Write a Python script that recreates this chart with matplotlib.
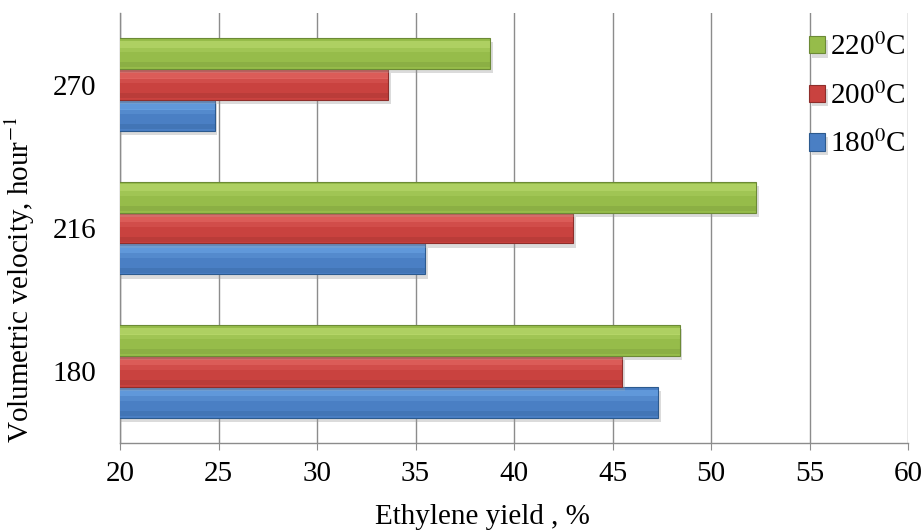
import matplotlib
matplotlib.use("Agg")
import matplotlib.pyplot as plt
import matplotlib.patheffects as pe
import numpy as np

plt.rcParams['font.family'] = ['Liberation Serif', 'DejaVu Serif']
plt.rcParams['mathtext.fontset'] = 'stix'

categories = ['180', '216', '270']
series_labels = ['180$^0$C', '200$^0$C', '220$^0$C']
vals_180C = [47.3, 35.5, 24.8]
vals_200C = [45.5, 43.0, 33.6]
vals_220C = [48.4, 52.3, 38.8]
x_ticks = [20, 25, 30, 35, 40, 45, 50, 55, 60]

series = [vals_180C, vals_200C, vals_220C]
colors = ['#4A7FC4', '#C9423F', '#96BC4A']
light = ['#7DB8F5', '#F27D78', '#CDEA80']
dark = ['#2C5A8E', '#8E2E2B', '#6C8A36']

fig = plt.figure(figsize=(9.24, 5.31), dpi=100)
ax = fig.add_axes([0.13, 0.1657, 0.8527, 0.8098])

y = np.arange(len(categories))
h = 0.216
for k, (vals, c, lc, dc, lab) in enumerate(zip(series, colors, light, dark, series_labels)):
    pos = y + (k - 1) * h
    ax.barh(pos, vals, height=h, color=c, edgecolor=dc, linewidth=0.8, label=lab, zorder=3,
            path_effects=[pe.withSimplePatchShadow(offset=(2, -3), shadow_rgbFace='#999999', alpha=0.35)])
    # bevel highlight on the upper part of each bar
    ax.barh(pos + h * 0.3, vals, height=h * 0.22, color=lc, alpha=0.45, linewidth=0, zorder=4)
    ax.barh(pos + h * 0.12, vals, height=h * 0.16, color=lc, alpha=0.2, linewidth=0, zorder=4)
    # darker lower band
    ax.barh(pos - h * 0.36, vals, height=h * 0.16, color=dc, alpha=0.25, linewidth=0, zorder=4)

ax.set_xlim(20, 60)
ax.set_ylim(-0.5, 2.5)
ax.set_xticks(x_ticks)
ax.set_xticklabels([str(t) for t in x_ticks])
ax.set_yticks(y)
ax.set_yticklabels(categories)

ax.grid(axis='x', color='#8C8C8C', linewidth=1.0, zorder=0)
ax.set_axisbelow(True)
for s in ['top', 'right']:
    ax.spines[s].set_visible(False)
for s in ['left', 'bottom']:
    ax.spines[s].set_color('#8C8C8C')
    ax.spines[s].set_linewidth(1.0)
ax.tick_params(axis='x', direction='out', length=5, color='#8C8C8C', pad=8, labelsize=21)
ax.tick_params(axis='y', length=0, pad=17, labelsize=21)

ax.set_xlabel('Ethylene yield , %', fontsize=21)
ax.xaxis.set_label_coords(0.46, -0.142)
ax.set_ylabel('Volumetric velocity, hour$^{-1}$', fontsize=21)
ax.yaxis.set_label_coords(-0.106, 0.38)

handles, labels = ax.get_legend_handles_labels()
leg = ax.legend(handles[::-1], labels[::-1], loc='upper left', bbox_to_anchor=(0.86, 0.98),
                frameon=False, fontsize=21, handlelength=0.55, handleheight=0.55,
                handletextpad=0.15, labelspacing=0.72, borderaxespad=0.0)

fig.savefig('out.png', dpi=100)
